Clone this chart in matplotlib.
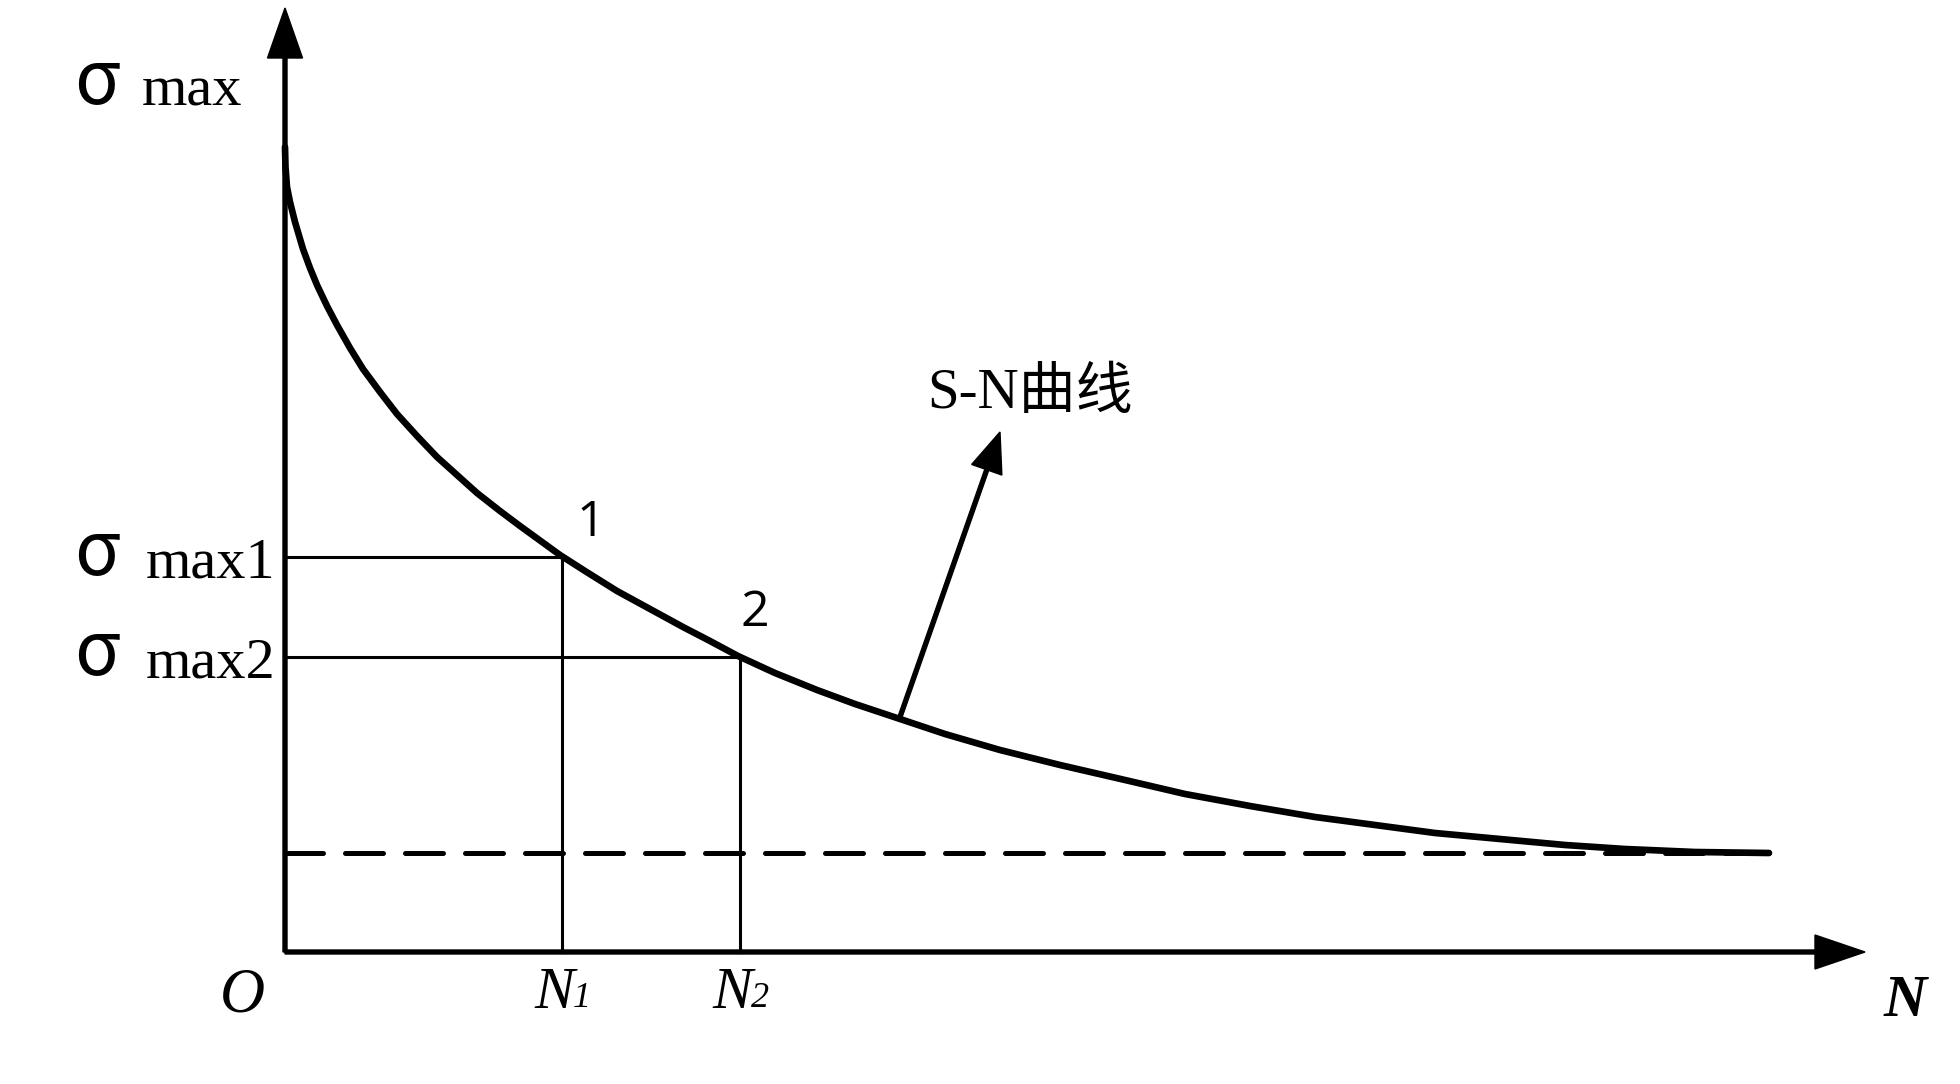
import matplotlib
matplotlib.use('Agg')
import matplotlib.pyplot as plt

# S-N curve (N in arbitrary units, sigma_max in arbitrary units)
curve_n = [0.0, 0.005, 0.02, 0.05, 0.10, 0.18, 0.25, 0.32, 0.42, 0.52, 0.65, 0.78,
           0.95, 1.12, 1.32, 1.52, 1.72, 1.92, 2.15, 2.35, 2.55, 2.75, 3.00, 3.32,
           3.65, 3.98, 4.25, 4.53, 4.90, 5.32, 5.70, 6.15, 6.60, 7.15, 7.75, 8.40,
           9.00, 9.65, 10.30, 10.90, 11.50, 12.15, 12.80, 13.40, 14.10, 14.84]
curve_s = [8.05, 7.85, 7.65, 7.50, 7.30, 7.03, 6.84, 6.67, 6.46, 6.27, 6.04, 5.83,
           5.60, 5.38, 5.16, 4.95, 4.77, 4.59, 4.41, 4.26, 4.115, 3.97, 3.81, 3.61,
           3.43, 3.25, 3.11, 2.96, 2.79, 2.62, 2.48, 2.33, 2.18, 2.02, 1.87, 1.72,
           1.58, 1.46, 1.35, 1.27, 1.19, 1.13, 1.07, 1.03, 1.00, 0.99]

# fatigue limit (dashed)
limit_s = 0.99

# the two marked points on the curve
point_n = [2.77, 4.55]
point_s = [3.95, 2.95]
point_labels = ['1', '2']
sigma_labels = ['max1', 'max2']
n_subs = ['1', '2']

# axis extents
x_end = 15.8
y_end = 9.44

fig = plt.figure(figsize=(19.6, 10.84), dpi=100)
ax = fig.add_axes([0, 0, 1, 1])
ax.set_xlim(-2.85, 16.75)
ax.set_ylim(-1.32, 9.52)
ax.axis('off')

serif = ['Liberation Serif', 'Noto Sans CJK SC']

# axes with arrows
ax.arrow(0, 0, x_end, 0, width=0.04, head_width=0.34, head_length=0.5,
         length_includes_head=True, color='black')
ax.arrow(0, 0, 0, y_end, width=0.04, head_width=0.35, head_length=0.5,
         length_includes_head=True, color='black')

# dashed fatigue limit
ax.plot([0, curve_n[-1]], [limit_s, limit_s], color='black', lw=3.6,
        dashes=(7.6, 4.4), dash_capstyle='round')

# guide lines
for n, s in zip(point_n, point_s):
    ax.plot([0, n], [s, s], color='black', lw=2.2)
    ax.plot([n, n], [0, s], color='black', lw=2.2)

# the curve
ax.plot(curve_n, curve_s, color='black', lw=4.8, solid_capstyle='round',
        solid_joinstyle='round')

# annotation arrow
ax.arrow(6.15, 2.35, 1.0, 2.85, width=0.04, head_width=0.32, head_length=0.4,
         length_includes_head=True, color='black')
ax.text(7.45, 5.58, 'S-N曲线', family=serif, fontsize=41, ha='center', va='center')

# point labels
ax.text(3.06, 4.29, point_labels[0], family='Open Sans', fontsize=36,
        ha='center', va='center')
ax.text(4.70, 3.39, point_labels[1], family='Open Sans', fontsize=36,
        ha='center', va='center')

# y labels
ax.text(-1.88, 8.70, 'σ', family='Noto Sans CJK SC', fontsize=54, ha='center', va='center')
ax.text(-1.43, 8.46, 'max', family=serif, fontsize=42, ha='left', va='baseline')
for s, lab in zip(point_s, sigma_labels):
    ax.text(-1.88, s + 0.03, 'σ', family='Noto Sans CJK SC', fontsize=54,
            ha='center', va='center')
    ax.text(-1.39, s - 0.21, lab, family=serif, fontsize=42, ha='left', va='baseline')

# x labels
ax.text(-0.43, -0.44, 'O', family=serif, style='italic', fontsize=45,
        ha='center', va='center')
for n, sub in zip(point_n, n_subs):
    ax.text(n - 0.08, -0.56, 'N', family=serif, style='italic', fontsize=43,
            ha='center', va='baseline')
    ax.text(n + 0.2, -0.55, sub, family=serif, style='italic', fontsize=26,
            ha='center', va='baseline')
ax.text(16.2, -0.50, 'N', family=serif, style='italic', weight='bold',
        fontsize=43, ha='center', va='center')

fig.savefig('out.png', dpi=100)
